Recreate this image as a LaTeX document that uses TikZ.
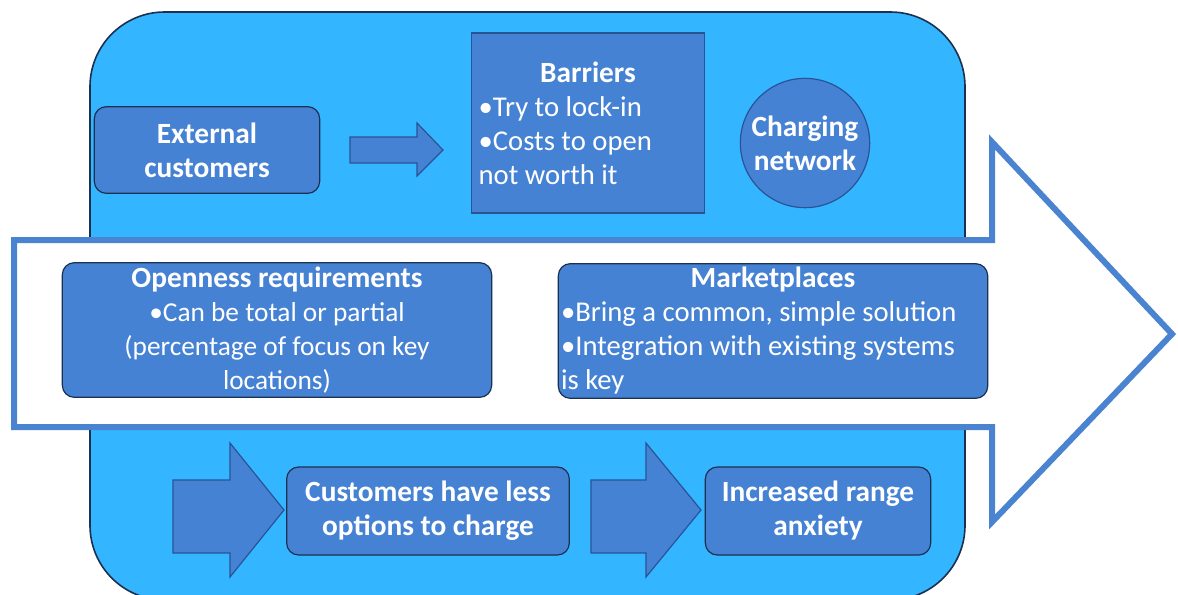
\documentclass[tikz,border=0pt]{standalone}
\usepackage{fontspec}
\setmainfont{Carlito}
\definecolor{skyfill}{RGB}{51,181,255}
\definecolor{boxfill}{RGB}{70,130,212}
\definecolor{arrowline}{RGB}{74,132,208}
\definecolor{boxline}{RGB}{28,48,80}
\definecolor{blockline}{RGB}{40,84,150}

\begin{document}
\begin{tikzpicture}[x=0.75pt, y=-0.75pt,
		txt/.style={font=\fontsize{20.5}{25.5}\selectfont},
		listtxt/.style={font=\fontsize{21.5}{25.5}\selectfont},
		boldtxt/.style={font=\fontsize{22}{25.5}\selectfont\bfseries},
		roundbox/.style={draw=boxline, line width=0.9pt, fill=boxfill, rounded corners=9pt, text=white, inner sep=2pt, txt},
		squarebox/.style={draw=blockline, line width=0.9pt, fill=boxfill, text=white, inner sep=4pt, txt},
		blockarrow/.style={draw=blockline, line width=0.9pt, fill=boxfill}]
		\useasboundingbox (0,0) rectangle (1178,594);
		\fill[white] (0,0) rectangle (1178,594);
		% background panel
		\draw[boxline, line width=1.2pt, fill=skyfill, rounded corners=56pt] (90,12) rectangle (965,600);
		% big white arrow
		\draw[arrowline, line width=4.5pt, fill=white, line join=miter] (14,240) -- (992,240) -- (992,142) -- (1172,334) -- (992,522) -- (992,427) -- (14,427) -- cycle;
		% top row
		\node[roundbox, minimum width=169pt, minimum height=65pt, align=center, boldtxt] (ext) at (207,150) {External\\customers};
		\draw[blockarrow] (350,137) -- (417,137) -- (417,123) -- (443,150) -- (417,176) -- (417,163) -- (350,163) -- cycle;
		\node[squarebox, minimum width=175pt, minimum height=135pt, text width=164pt, align=flush left, listtxt] (barriers) at (588,123) {\spaceskip=0pt\xspaceskip=0pt\makebox[164pt]{\fontsize{22}{25.5}\selectfont\bfseries Barriers}\\•Try to lock-in\\•Costs to open\\not worth it\\[-6pt]};
		\node[squarebox, circle, minimum size=97pt, align=center, inner sep=0pt, boldtxt] (charging) at (805,143) {Charging\\network};
		% middle row
		\node[roundbox, minimum width=322pt, minimum height=101pt, align=center] (openness) at (277,330) {\textbf{\fontsize{22}{25.5}\selectfont Openness requirements}\\•Can be total or partial\\(percentage of focus on key\\locations)};
		\node[roundbox, minimum width=322pt, minimum height=101pt, text width=318pt, align=flush left, listtxt] (market) at (773,331) {\spaceskip=0pt\xspaceskip=0pt\makebox[318pt]{\fontsize{22}{25.5}\selectfont\bfseries Marketplaces}\\•Bring a common, simple solution\\•Integration with existing systems\\is key};
		% bottom row
		\draw[blockarrow] (173,480) -- (230,480) -- (230,443) -- (284,510) -- (230,577) -- (230,553) -- (173,553) -- cycle;
		\node[roundbox, minimum width=212pt, minimum height=66pt, align=center, boldtxt] (fewer) at (428,511) {Customers have less\\options to charge};
		\draw[blockarrow] (591,480) -- (646,480) -- (646,443) -- (701,510) -- (646,577) -- (646,553) -- (591,553) -- cycle;
		\node[roundbox, minimum width=169pt, minimum height=66pt, align=center, boldtxt] (anxiety) at (818,511) {Increased range\\anxiety};
	\end{tikzpicture}
\end{document}
